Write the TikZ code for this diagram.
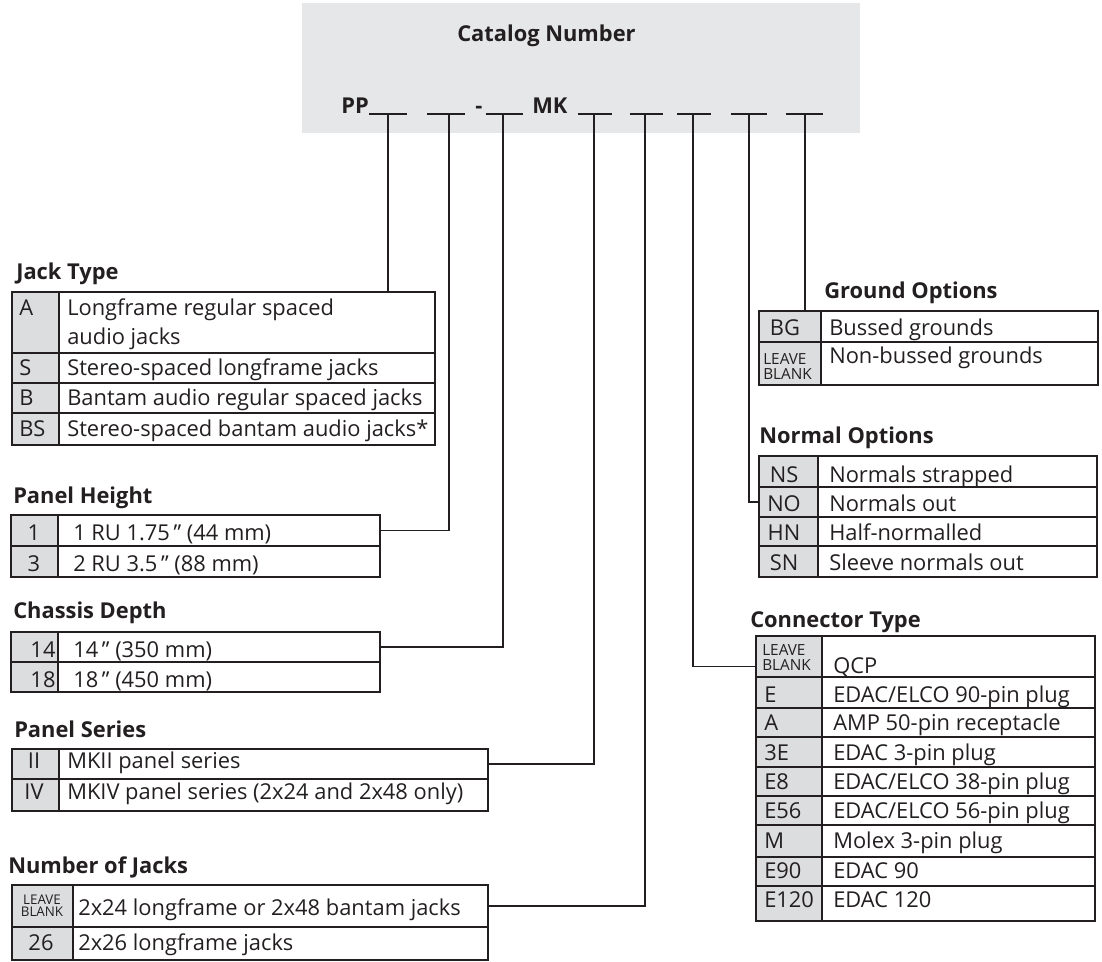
\documentclass[tikz,border=0pt]{standalone}
\usepackage{fontspec}
\setmainfont{Open Sans}
\usetikzlibrary{calc,fit}

\definecolor{headgray}{HTML}{E6E7E8}
\definecolor{codegray}{HTML}{DCDDDE}
\definecolor{ink}{HTML}{231F20}

% one table row: name, left, split, right, top, bottom
\newcommand{\optrow}[6]{%
  \fill[codegray] (#2,#5) rectangle (#3,#6);
  \node[cell,fit={(#2,#5)(#4,#6)}] (#1) {};
  \draw[rule] (#3,#5) -- (#3,#6);}

\begin{document}
\begin{tikzpicture}[x=0.75pt,y=-0.75pt,
  rule/.style={draw=ink,line width=1pt},
  cell/.style={draw=ink,line width=1pt,inner sep=0pt},
  txt/.style={inner sep=0pt,anchor=base west,text=ink,font=\fontsize{16.4}{19}\selectfont},
  ttl/.style={txt,font=\fontsize{16.4}{19}\selectfont\bfseries},
  ctr/.style={txt,anchor=base},
  lbk/.style={inner sep=0pt,text=ink,align=left,font=\fontsize{11.5}{11.25}\selectfont}]
  \useasboundingbox (0,0) rectangle (1102,961);

  % catalog number header
  \node[fill=headgray,inner sep=0pt,fit={(302,3)(860,133)}] (hdr) {};
  \node[ttl] (cat) at (457,41) {Catalog Number};
  \node[ttl] (pp) at (341,113) {PP};
  \node[ttl] (dash) at (475,113) {-};
  \node[ttl] (mk) at (532,113) {MK};
  \foreach \x/\l/\r [count=\i] in {388/369/407,449/427/465,503/486/523,594/578/612,
      645/630/663,693/677/711,749/731/767,805/786/823} {
    \coordinate (s\i) at (\x,114);
    \draw[rule] (\l,114) -- (\r,114);
  }

  % jack type
  \node[ttl] (jtT) at (16,279) {Jack Type};
  \foreach \t/\b/\y/\c/\d [count=\i] in {292/353/315/A/Longframe regular spaced,
      353/383/375/S/Stereo-spaced longframe jacks,
      383/413/405/B/Bantam audio regular spaced jacks,
      413/445/436/BS/Stereo-spaced bantam audio jacks*} {
    \optrow{jt\i}{12}{59}{435}{\t}{\b}
    \node[txt] (jtc\i) at (19,\y) {\c};
    \node[txt] (jtd\i) at (67,\y) {\d};
  }
  \node[txt] (jtd1b) at (67,344) {audio jacks};

  % panel height
  \node[ttl] (phT) at (13,503) {Panel Height};
  \foreach \t/\b/\y/\c/\d [count=\i] in {515/546/540/1/{1 RU 1.75\," (44 mm)},
      546/577/571/3/{2 RU 3.5\," (88 mm)}} {
    \optrow{ph\i}{11}{58}{380}{\t}{\b}
    \node[ctr] (phc\i) at (34,\y) {\c};
    \node[txt] (phd\i) at (73,\y) {\d};
  }

  % chassis depth
  \node[ttl] (cdT) at (13,618) {Chassis Depth};
  \foreach \t/\b/\y/\c/\d [count=\i] in {632/662/657/14/{14\," (350 mm)},
      662/692/687/18/{18\," (450 mm)}} {
    \optrow{cd\i}{11}{58}{380}{\t}{\b}
    \node[ctr] (cdc\i) at (43,\y) {\c};
    \node[txt] (cdd\i) at (73,\y) {\d};
  }

  % panel series
  \node[ttl] (psT) at (14,737) {Panel Series};
  \foreach \t/\b/\y/\c/\d [count=\i] in {749/779/768/II/MKII panel series,
      779/811/799/IV/{MKIV panel series (2x24 and 2x48 only)}} {
    \optrow{ps\i}{12}{59}{488}{\t}{\b}
    \node[ctr] (psc\i) at (34,\y) {\c};
    \node[txt] (psd\i) at (67,\y) {\d};
  }

  % number of jacks
  \node[ttl] (njT) at (8,873) {Number of Jacks};
  \optrow{nj1}{12}{73}{488}{885}{927}
  \optrow{nj2}{12}{73}{488}{927}{960}
  \node[lbk,align=center,anchor=north,font=\fontsize{10}{9}\selectfont] (njc1) at (42,895) {LEAVE\\BLANK};
  \node[txt] (njd1) at (78,915) {2x24 longframe or 2x48 bantam jacks};
  \node[ctr] (njc2) at (41,950) {26};
  \node[txt] (njd2) at (78,950) {2x26 longframe jacks};

  % ground options
  \node[ttl] (goT) at (824,298) {Ground Options};
  \optrow{go1}{759}{821}{1098}{311}{342}
  \optrow{go2}{759}{821}{1098}{342}{385}
  \node[ctr] (goc1) at (785,335) {BG};
  \node[txt] (god1) at (829,335) {Bussed grounds};
  \node[lbk,anchor=north west] (goc2) at (763,353) {LEAVE\\BLANK};
  \node[txt] (god2) at (829,363) {Non-bussed grounds};

  % normal options
  \node[ttl] (noT) at (759,443) {Normal Options};
  \foreach \t/\b/\y/\c/\d [count=\i] in {456/487/482/NS/Normals strapped,
      487/517/511/NO/Normals out, 517/546/540/HN/Half-normalled,
      546/577/570/SN/Sleeve normals out} {
    \optrow{no\i}{759}{818}{1097}{\t}{\b}
    \node[ctr] (noc\i) at (784,\y) {\c};
    \node[txt] (nod\i) at (829,\y) {\d};
  }

  % connector type
  \node[ttl] (ctT) at (750,627) {Connector Type};
  \optrow{ct1}{756}{822}{1095}{636}{677}
  \node[lbk,anchor=north west] (ctc1) at (762,644) {LEAVE\\BLANK};
  \node[txt] (ctd1) at (833,673) {QCP};
  \foreach \t/\b/\y/\c/\d [count=\i from 2] in {677/708/702/E/{EDAC/ELCO 90-pin plug},
      708/737/730/A/AMP 50-pin receptacle, 737/767/760/3E/EDAC 3-pin plug,
      767/796/789/E8/{EDAC/ELCO 38-pin plug}, 796/825/818/E56/{EDAC/ELCO 56-pin plug},
      825/857/848/M/Molex 3-pin plug, 857/886/878/E90/EDAC 90,
      886/921/907/E120/EDAC 120} {
    \optrow{ct\i}{756}{822}{1095}{\t}{\b}
    \node[txt] (ctc\i) at (764,\y) {\c};
    \node[txt] (ctd\i) at (833,\y) {\d};
  }

  % leader lines from the blanks
  \draw[rule] (s1) -- (s1 |- jt1.north);
  \draw[rule] (s2) |- (ph1.east);
  \draw[rule] (s3) |- (cd1.east);
  \draw[rule] (s4) |- (ps1.east);
  \draw[rule] (s5) |- (nj1.east);
  \draw[rule] (s6) |- ($(ct1.west)+(0,10)$);
  \draw[rule] (s7) |- (no2.west);
  \draw[rule] (s8) -- (s8 |- go1.north);
\end{tikzpicture}
\end{document}
